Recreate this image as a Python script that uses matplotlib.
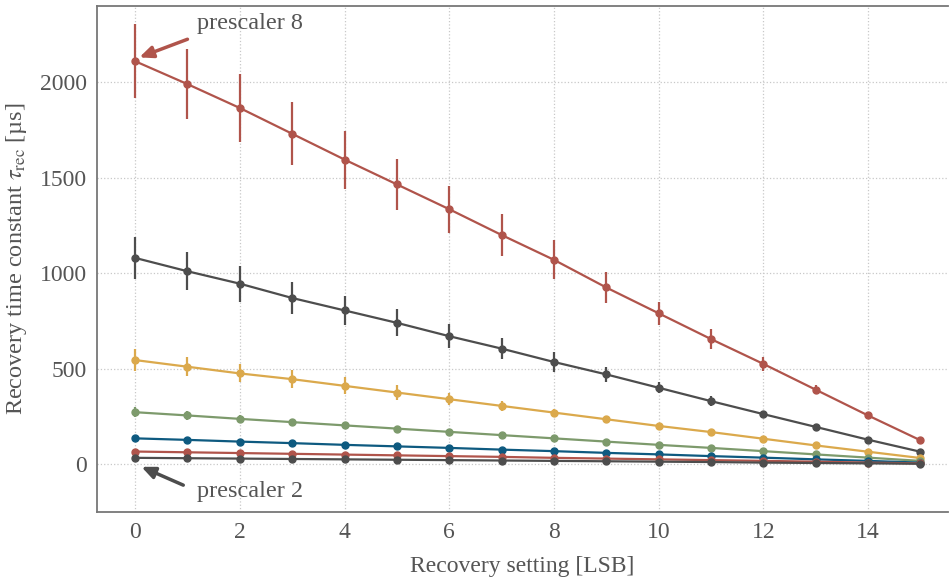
import numpy as np
import matplotlib.pyplot as plt

plt.rcParams['font.family'] = ['Liberation Serif', 'DejaVu Serif']
plt.rcParams['mathtext.fontset'] = 'stix'

settings = list(range(16))

# tau_rec per prescaler, top to bottom
tau_p8 = [2110, 1990, 1865, 1730, 1595, 1465, 1335, 1200, 1070, 925, 790, 655, 525, 390, 255, 125]
err_p8 = [195, 185, 180, 165, 152, 135, 123, 112, 102, 79, 60, 52, 37, 22, 8, 5]
tau_a = [1080, 1010, 945, 870, 805, 740, 670, 605, 535, 470, 400, 330, 262, 195, 128, 65]
err_a = [112, 100, 95, 85, 74, 70, 64, 55, 50, 40, 30, 25, 15, 10, 5, 3]
tau_b = [545, 510, 475, 445, 410, 375, 340, 305, 270, 235, 200, 168, 133, 98, 65, 32]
err_b = [58, 50, 47, 46, 44, 39, 30, 26, 20, 16, 12, 10, 8, 6, 4, 2]
tau_c = [272, 255, 237, 220, 203, 186, 169, 152, 135, 118, 101, 85, 68, 51, 34, 17]
err_c = [25, 22, 18, 15, 12, 10, 8, 7, 6, 5, 4, 3, 3, 2, 2, 1]
tau_d = [135, 127, 118, 110, 101, 93, 85, 76, 68, 59, 51, 42, 34, 25, 17, 8]
err_d = [8, 7, 6, 6, 5, 5, 4, 4, 3, 3, 3, 2, 2, 2, 1, 1]
tau_e = [66, 62, 58, 54, 50, 46, 42, 38, 33, 29, 25, 21, 17, 13, 8, 4]
err_e = [4, 4, 3, 3, 3, 3, 2, 2, 2, 2, 2, 1, 1, 1, 1, 1]
tau_p2 = [33, 31, 29, 27, 25, 23, 21, 19, 17, 15, 13, 11, 8, 6, 4, 2]
err_p2 = [2, 2, 2, 2, 2, 1, 1, 1, 1, 1, 1, 1, 1, 1, 1, 1]

series = [
    (tau_p8, err_p8, '#b0544b'),
    (tau_a, err_a, '#4d4d4d'),
    (tau_b, err_b, '#dba94c'),
    (tau_c, err_c, '#7d9a6c'),
    (tau_d, err_d, '#0e5a80'),
    (tau_e, err_e, '#b0544b'),
    (tau_p2, err_p2, '#4d4d4d'),
]

txt = '#555555'
fig, ax = plt.subplots(figsize=(9.5, 5.83), dpi=100)
fig.subplots_adjust(left=0.102, right=0.998, top=0.99, bottom=0.122)

for y, e, c in series:
    ax.errorbar(settings, y, yerr=e, color=c, marker='o', ms=5, lw=1.6,
                elinewidth=1.6, capsize=0, zorder=3)

ax.set_xlim(-0.73, 15.53)
ax.set_ylim(-250, 2400)
ax.set_xticks(range(0, 15, 2))
ax.set_yticks([0, 500, 1000, 1500, 2000])
ax.grid(True, linestyle=':', color='#c8c8c8', lw=0.9)
ax.tick_params(length=0, labelsize=17, labelcolor=txt, pad=7)
for s in ['top', 'left', 'bottom']:
    ax.spines[s].set_color('#777777')
    ax.spines[s].set_linewidth(1.3)
ax.spines['right'].set_visible(False)

ax.set_xlabel('Recovery setting [LSB]', fontsize=17, color=txt, labelpad=10)
ax.set_ylabel(r'Recovery time constant $\tau_\mathrm{rec}$ [µs]', fontsize=17.5,
              color=txt, labelpad=8)

arrow = dict(arrowstyle='-|>,head_length=0.8,head_width=0.35', lw=2.5,
             shrinkA=0, shrinkB=0)
ax.text(1.18, 2305, 'prescaler 8', fontsize=17.5, color=txt, va='center', ha='left')
ax.annotate('', xy=(0.08, 2130), xytext=(1.0, 2225),
            arrowprops=dict(arrow, color='#b0544b'))
ax.text(1.18, -142, 'prescaler 2', fontsize=17.5, color=txt, va='center', ha='left')
ax.annotate('', xy=(0.12, -14), xytext=(0.92, -110),
            arrowprops=dict(arrow, color='#4d4d4d'))

fig.savefig('out.png')
